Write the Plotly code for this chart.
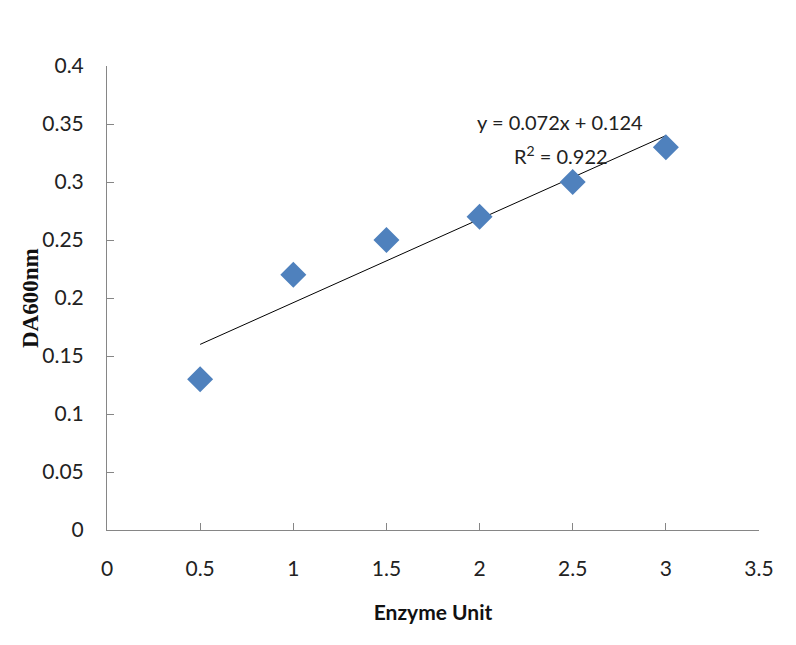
import numpy as np
import plotly.graph_objects as go

# enzyme units vs absorbance
enzyme_unit = [0.5, 1.0, 1.5, 2.0, 2.5, 3.0]
da600 = [0.13, 0.22, 0.25, 0.27, 0.30, 0.33]
x_ticks = [0, 0.5, 1, 1.5, 2, 2.5, 3, 3.5]
y_ticks = [0, 0.05, 0.1, 0.15, 0.2, 0.25, 0.3, 0.35, 0.4]

slope, intercept = np.polyfit(enzyme_unit, da600, 1)
fit_x = [min(enzyme_unit), max(enzyme_unit)]
fit_y = [slope * v + intercept for v in fit_x]
pred = np.polyval([slope, intercept], enzyme_unit)
r2 = 1 - np.sum((np.array(da600) - pred) ** 2) / np.sum((np.array(da600) - np.mean(da600)) ** 2)

SANS = "Lato, Roboto, sans-serif"
AXIS_COLOR = '#868686'

fig = go.Figure()
fig.add_trace(go.Scatter(x=fit_x, y=fit_y, mode='lines', line=dict(color='black', width=1), showlegend=False))
fig.add_trace(go.Scatter(x=enzyme_unit, y=da600, mode='markers', marker=dict(symbol='diamond', size=20, color='#4F81BD'), showlegend=False))

fig.add_annotation(x=2.89, y=0.352, xref='x', yref='y', text=f"y = {slope:.3f}x + {intercept:.3f}", showarrow=False,
                   xanchor='right', font=dict(family=SANS, size=20, color='#222'))
fig.add_annotation(x=2.70, y=0.323, xref='x', yref='y', text=f"R<sup>2</sup> = {r2:.3f}", showarrow=False,
                   xanchor='right', font=dict(family=SANS, size=20, color='#222'))
# y axis title placed by hand so it sits where the original has it
fig.add_annotation(x=0, y=0.5, xref='paper', yref='paper', xanchor='center', yanchor='middle', xshift=-77,
                   text="<b>DA600nm</b>", textangle=-90, showarrow=False,
                   font=dict(family="Liberation Serif, Times New Roman, serif", size=23, color='#111'))

fig.update_layout(
    width=796, height=645, paper_bgcolor='white', plot_bgcolor='white',
    margin=dict(l=99, r=45, t=58, b=123),
    xaxis=dict(range=[0, 3.5], tickvals=x_ticks, ticktext=[f"{v:g}" for v in x_ticks], showgrid=False, zeroline=False,
               showline=True, linecolor=AXIS_COLOR, linewidth=1, ticks='inside', ticklen=7, tickcolor=AXIS_COLOR,
               tickfont=dict(family=SANS, size=21, color='#222'), ticklabelstandoff=20,
               title=dict(text="<b>Enzyme Unit</b>", font=dict(family=SANS, size=21, color='#111'), standoff=26)),
    yaxis=dict(range=[0, 0.4], tickvals=y_ticks, ticktext=[f"{v:g}" for v in y_ticks], showgrid=False, zeroline=False,
               showline=True, linecolor=AXIS_COLOR, linewidth=1, ticks='inside', ticklen=7, tickcolor=AXIS_COLOR,
               tickfont=dict(family=SANS, size=21, color='#222'), ticklabelstandoff=18),
)
fig.write_html("out.html")
